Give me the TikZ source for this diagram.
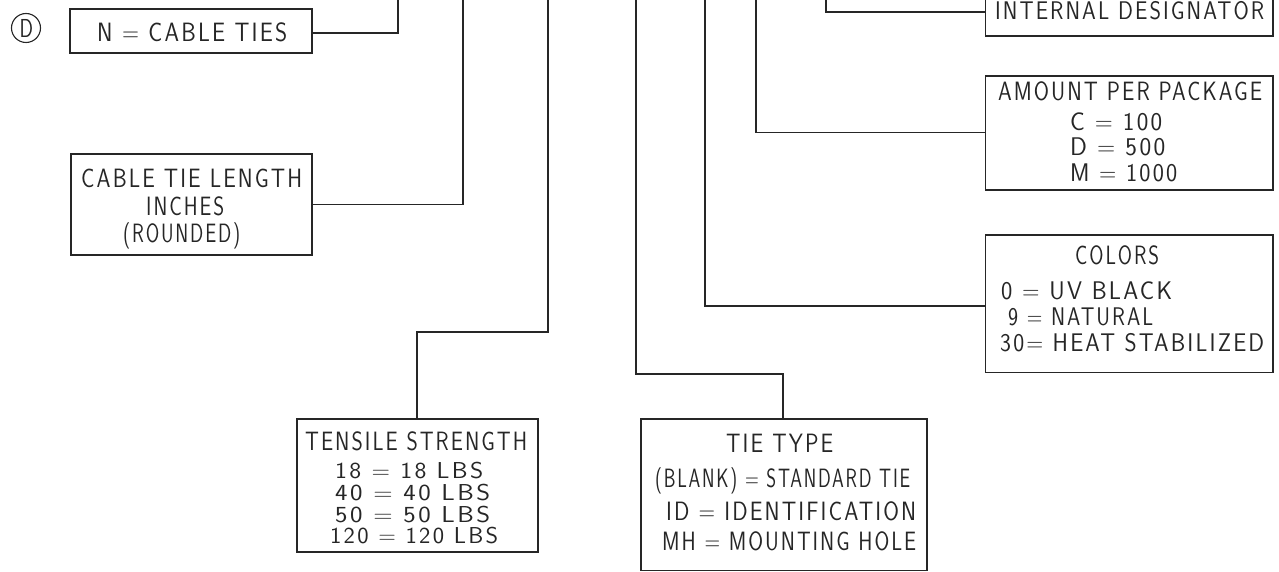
\documentclass[tikz,border=0pt]{standalone}
\usepackage{fontspec}
\usepackage{graphicx}
\newfontfamily\cadfont{lmsans17-regular.otf}[FakeStretch=0.75,LetterSpace=7]
\definecolor{ink}{gray}{0.15}
\tikzset{
  boxnode/.style={draw=ink, line width=1.1pt, rectangle, inner sep=0pt},
  conn/.style={draw=ink, line width=1.1pt},
  txt/.style={anchor=base west, inner sep=0pt, text=ink}
}
\newcommand\cadtxt[6][26.5]{\node[txt] (#2) at (#3,#4) {\resizebox{#5pt}{\height}{\fontsize{#1}{#1}\selectfont\cadfont #6}};}
\begin{document}
\begin{tikzpicture}[x=1pt,y=-1pt]
\useasboundingbox (0,0) rectangle (1279,572);
\clip (0,0) rectangle (1279,572);
\fill[white] (0,0) rectangle (1279,572);

% circle D
\node[circle, draw=ink, line width=1.1pt, minimum size=29pt, inner sep=0pt] (dcirc) at (26,28) {};
\node[txt] (dlabel) at (19.5,38) {\resizebox{13.5pt}{\height}{\fontsize{26}{26}\selectfont\cadfont D}};

% boxes
\node[boxnode, minimum width=242pt, minimum height=44pt] (nbox) at (191,31) {};
\node[boxnode, minimum width=241pt, minimum height=101pt] (lenbox) at (191.5,204.5) {};
\node[boxnode, minimum width=241pt, minimum height=133pt] (tens) at (417.5,485.5) {};
\node[boxnode, minimum width=286pt, minimum height=151.5pt] (tie) at (784,494.75) {};
\node[boxnode, minimum width=287.3pt, minimum height=137.3pt] (colors) at (1129.35,303.65) {};
\node[boxnode, minimum width=287.3pt, minimum height=114pt] (amount) at (1129.35,133) {};
\node[boxnode, minimum width=287.3pt, minimum height=48pt] (internal) at (1129.35,12) {};

% free ends at the top edge
\coordinate (topN) at (398,-3);
\coordinate (topLen) at (463,-3);
\coordinate (tensBend) at (548,332);
\coordinate (tensTop) at (548,-3);
\coordinate (tieBend) at (636,374);
\coordinate (tieTop) at (636,-3);
\coordinate (colTop) at (705,-3);
\coordinate (amtTop) at (756,-3);
\coordinate (intTop) at (826,-3);

% connectors
\draw[conn] ([yshift=-2pt]nbox.east) -| (topN);
\draw[draw=ink, line width=2.4pt] (366,33) -- (373,33);
\draw[conn] (lenbox.east) -| (topLen);
\draw[conn] ([xshift=-0.5pt]tens.north) |- (tensBend) -- (tensTop);
\draw[conn] ([xshift=-1pt]tie.north) |- (tieBend) -- (tieTop);
\draw[conn] ([yshift=-2.3pt]colors.west) -| (colTop);
\draw[conn] ([yshift=0.7pt]amount.west) -| (amtTop);
\draw[conn] (internal.west) -| (intTop);

% texts
\cadtxt{t1}{97}{42}{190}{N = CABLE TIES}
\cadtxt{t2}{81}{188}{221}{CABLE TIE LENGTH}
\cadtxt{t3}{146}{216}{78}{INCHES}
\cadtxt{t4}{123}{242.5}{117}{(ROUNDED)}
\cadtxt{t5}{305}{450}{222}{TENSILE STRENGTH}
\cadtxt[23]{t6}{335}{478}{148}{18 = 18 LBS}
\cadtxt[23]{t7}{335}{500}{155}{40 = 40 LBS}
\cadtxt[23]{t8}{335}{522}{155}{50 = 50 LBS}
\cadtxt[23]{t9}{330}{543}{168}{120 = 120 LBS}
\cadtxt{t10}{726}{452.7}{107}{TIE TYPE}
\cadtxt{t11}{655}{487.5}{255}{(BLANK) = STANDARD TIE}
\cadtxt{t12}{666}{520}{250}{ID = IDENTIFICATION}
\cadtxt{t13}{662}{550}{254}{MH = MOUNTING HOLE}
\cadtxt[25.5]{t14}{995}{20}{269}{INTERNAL DESIGNATOR}
\cadtxt{t15}{998}{100.7}{264}{AMOUNT PER PACKAGE}
\cadtxt[25.5]{t16}{1070}{131}{92}{C = 100}
\cadtxt[25.5]{t17}{1070}{156}{95}{D = 500}
\cadtxt[25.5]{t18}{1070}{181.7}{107}{M = 1000}
\cadtxt{t19}{1075}{265}{84}{COLORS}
\cadtxt[25.5]{t20}{1001}{299.3}{171}{0 = UV BLACK}
\cadtxt[25.5]{t21}{1008}{325}{145}{9 = NATURAL}
\cadtxt[25.5]{t22}{1000}{351.7}{264}{30= HEAT STABILIZED}
\end{tikzpicture}
\end{document}
